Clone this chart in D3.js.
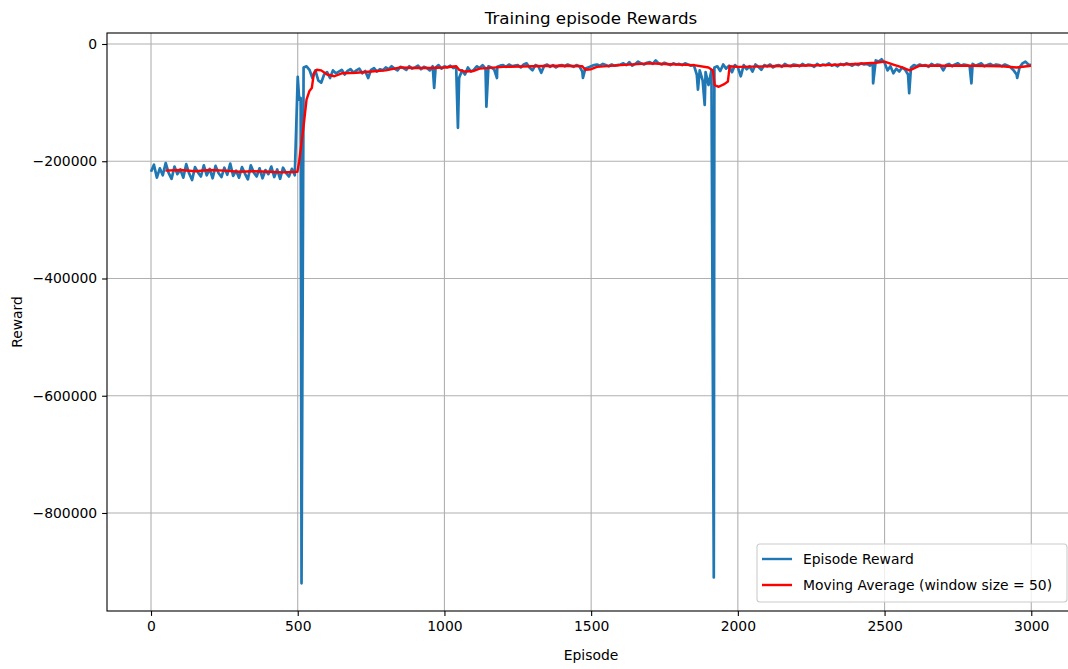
<!DOCTYPE html>
<html lang="en">
<head>
    <meta charset="UTF-8">
    <title>Training episode Rewards</title>
    <script src="https://d3js.org/d3.v7.min.js"></script>
    <style>
        body { margin: 0; background: #fff; }
        text { font-family: "DejaVu Sans", sans-serif; fill: #000; }
    </style>
</head>
<body>
    <svg width="1068" height="669" id="chart"></svg>

    <script>
        // episode reward, one reading every 10 episodes (0, 10, ... 2990)
        var rewards = [
            -218000,-206000,-228000,-212000,-224000,-203000,-220000,-230000,-209000,-222000,
            -214000,-228000,-205000,-221000,-232000,-210000,-219000,-226000,-207000,-224000,
            -213000,-229000,-208000,-220000,-227000,-211000,-223000,-204000,-225000,-216000,
            -228000,-210000,-221000,-231000,-207000,-219000,-226000,-212000,-229000,-215000,
            -222000,-209000,-227000,-214000,-230000,-211000,-220000,-226000,-213000,-224000,
            -56000,-92000,-40000,-38000,-44000,-58000,-45000,-62000,-66000,-52000,
            -48000,-58000,-45000,-50000,-47000,-44000,-52000,-46000,-43000,-49000,
            -45000,-42000,-50000,-46000,-58000,-44000,-41000,-47000,-43000,-45000,
            -40000,-43000,-38000,-42000,-45000,-39000,-41000,-44000,-38000,-42000,
            -40000,-37000,-43000,-39000,-41000,-45000,-38000,-40000,-36000,-42000,
            -38000,-40000,-37000,-41000,-39000,-58000,-45000,-52000,-40000,-47000,
            -44000,-38000,-41000,-36000,-42000,-38000,-40000,-44000,-39000,-37000,
            -36000,-39000,-35000,-38000,-37000,-36000,-40000,-35000,-33000,-40000,
            -45000,-36000,-38000,-49000,-37000,-35000,-39000,-36000,-40000,-37000,
            -36000,-38000,-35000,-37000,-39000,-36000,-38000,-47000,-42000,-40000,
            -38000,-36000,-35000,-37000,-34000,-36000,-38000,-35000,-37000,-36000,
            -35000,-33000,-36000,-31000,-37000,-34000,-30000,-33000,-35000,-32000,
            -31000,-34000,-28000,-33000,-35000,-32000,-34000,-36000,-33000,-35000,
            -34000,-36000,-33000,-35000,-37000,-36000,-52000,-45000,-62000,-48000,
            -70000,-45000,-40000,-38000,-46000,-35000,-42000,-37000,-48000,-36000,
            -40000,-55000,-36000,-43000,-38000,-47000,-35000,-39000,-44000,-36000,
            -38000,-35000,-40000,-37000,-36000,-39000,-34000,-37000,-38000,-35000,
            -36000,-38000,-34000,-37000,-35000,-36000,-39000,-34000,-37000,-35000,
            -36000,-33000,-37000,-35000,-38000,-34000,-36000,-33000,-35000,-37000,
            -34000,-36000,-33000,-35000,-34000,-37000,-34000,-28000,-30000,-26000,
            -32000,-45000,-38000,-50000,-42000,-47000,-40000,-44000,-52000,-40000,
            -36000,-38000,-35000,-37000,-36000,-39000,-34000,-37000,-35000,-36000,
            -45000,-36000,-34000,-38000,-35000,-33000,-37000,-35000,-36000,-38000,
            -34000,-37000,-35000,-33000,-38000,-36000,-34000,-37000,-35000,-36000,
            -38000,-35000,-37000,-40000,-45000,-52000,-40000,-33000,-30000,-35000
        ];

        // single-episode drops that fall between the readings above
        var spikeEpisodes = [505, 513, 965, 1046, 1143, 1179, 1472, 1864, 1887, 1918, 2461, 2584, 2796, 2952, 2999];
        var spikeValues = [-95000, -920000, -75000, -143000, -107000, -58000, -58000, -78000, -104000, -910000, -67000, -84000, -67000, -58000, -36000];

        // moving average (window size = 50)
        var maEpisodes = [49, 100, 150, 200, 250, 300, 350, 400, 450, 499, 505, 520, 530, 540, 548, 555, 565, 580, 600, 625, 650, 700, 750, 800, 850, 900, 950, 1000, 1040, 1050, 1070, 1100, 1120, 1200, 1300, 1400, 1470, 1480, 1500, 1520, 1600, 1700, 1750, 1850, 1900, 1915, 1921, 1935, 1955, 1966, 1972, 2000, 2100, 2200, 2300, 2400, 2470, 2500, 2530, 2560, 2585, 2620, 2700, 2800, 2900, 2950, 2999];
        var maValues = [-216000, -215000, -217000, -215000, -216000, -218000, -217000, -218000, -219000, -218000, -200000, -140000, -95000, -80000, -75000, -50000, -44000, -45000, -52000, -55000, -50000, -49000, -47000, -45000, -40000, -41000, -41000, -40000, -38000, -44000, -47000, -46000, -42000, -39000, -38000, -37000, -38000, -44000, -43000, -39000, -36000, -33000, -34000, -36000, -40000, -45000, -70000, -73000, -68000, -64000, -38000, -39000, -38000, -37000, -36000, -34000, -32000, -30000, -35000, -40000, -45000, -37000, -37000, -37000, -38000, -40000, -37000];

        var xTicks = [0, 500, 1000, 1500, 2000, 2500, 3000];
        var yTicks = [0, -200000, -400000, -600000, -800000];

        var svg = d3.select("#chart");
        var plotLeft = 107, plotRight = 1075, plotTop = 33, plotBottom = 611;

        var x = d3.scaleLinear().domain([-150, 3149]).range([plotLeft, plotRight]);
        var y = d3.scaleLinear().domain([-967200, 18760]).range([plotBottom, plotTop]);

        // build the reward series
        var rewardPts = rewards.map(function (v, i) { return [i * 10, v]; });
        spikeEpisodes.forEach(function (e, i) { rewardPts.push([e, spikeValues[i]]); });
        rewardPts.sort(function (a, b) { return a[0] - b[0]; });
        var maPts = maEpisodes.map(function (e, i) { return [e, maValues[i]]; });

        // grid
        var grid = svg.append("g").attr("stroke", "#b0b0b0").attr("stroke-width", 1.1);
        grid.selectAll(".gx").data(xTicks).join("line")
            .attr("x1", d => x(d)).attr("x2", d => x(d))
            .attr("y1", plotTop).attr("y2", plotBottom);
        grid.selectAll(".gy").data(yTicks).join("line")
            .attr("x1", plotLeft).attr("x2", plotRight)
            .attr("y1", d => y(d)).attr("y2", d => y(d));

        // axes
        var fmt = d => d < 0 ? "\u2212" + Math.abs(d) : "" + d;
        var xAxis = svg.append("g")
            .attr("transform", "translate(0," + plotBottom + ")")
            .call(d3.axisBottom(x).tickValues(xTicks).tickSize(4.9).tickPadding(4.9).tickFormat(fmt));
        var yAxis = svg.append("g")
            .attr("transform", "translate(" + plotLeft + ",0)")
            .call(d3.axisLeft(y).tickValues(yTicks).tickSize(4.9).tickPadding(4.9).tickFormat(fmt));
        [xAxis, yAxis].forEach(function (a) {
            a.select(".domain").remove();
            a.selectAll("line").attr("stroke", "#000").attr("stroke-width", 1.1);
            a.selectAll("text").attr("font-size", 13.9).attr("font-family", "DejaVu Sans, sans-serif").attr("fill", "#000");
        });

        // lines
        var line = d3.line().x(d => x(d[0])).y(d => y(d[1]));
        svg.append("path")
            .datum(rewardPts)
            .attr("fill", "none")
            .attr("stroke", "#1f77b4")
            .attr("stroke-width", 2.7)
            .attr("stroke-linejoin", "round")
            .attr("d", line);
        svg.append("path")
            .datum(maPts)
            .attr("fill", "none")
            .attr("stroke", "red")
            .attr("stroke-width", 2.4)
            .attr("stroke-linejoin", "round")
            .attr("d", line);

        // frame
        svg.append("rect")
            .attr("x", plotLeft).attr("y", plotTop)
            .attr("width", plotRight - plotLeft).attr("height", plotBottom - plotTop)
            .attr("fill", "none").attr("stroke", "#000").attr("stroke-width", 1.1);

        // titles
        svg.append("text")
            .attr("x", (plotLeft + plotRight) / 2).attr("y", 24)
            .attr("text-anchor", "middle").attr("font-size", 16.7)
            .text("Training episode Rewards");
        svg.append("text")
            .attr("x", (plotLeft + plotRight) / 2).attr("y", 660)
            .attr("text-anchor", "middle").attr("font-size", 13.9)
            .text("Episode");
        svg.append("text")
            .attr("transform", "translate(22," + (plotTop + plotBottom) / 2 + ") rotate(-90)")
            .attr("text-anchor", "middle").attr("font-size", 13.9)
            .text("Reward");

        // legend
        var legend = svg.append("g");
        legend.append("rect")
            .attr("x", 757).attr("y", 544).attr("width", 310).attr("height", 58)
            .attr("rx", 3).attr("fill", "#fff").attr("fill-opacity", 0.8)
            .attr("stroke", "#cccccc").attr("stroke-width", 1.1);
        var items = legend.selectAll("g")
            .data([["Episode Reward", "#1f77b4"], ["Moving Average (window size = 50)", "red"]])
            .join("g")
            .attr("transform", (d, i) => "translate(0," + (559 + i * 26) + ")");
        items.append("line")
            .attr("x1", 762).attr("x2", 792)
            .attr("stroke", d => d[1]).attr("stroke-width", 2.4);
        items.append("text")
            .attr("x", 803).attr("dy", "0.35em").attr("font-size", 13.9)
            .text(d => d[0]);
    </script>
</body>
</html>
